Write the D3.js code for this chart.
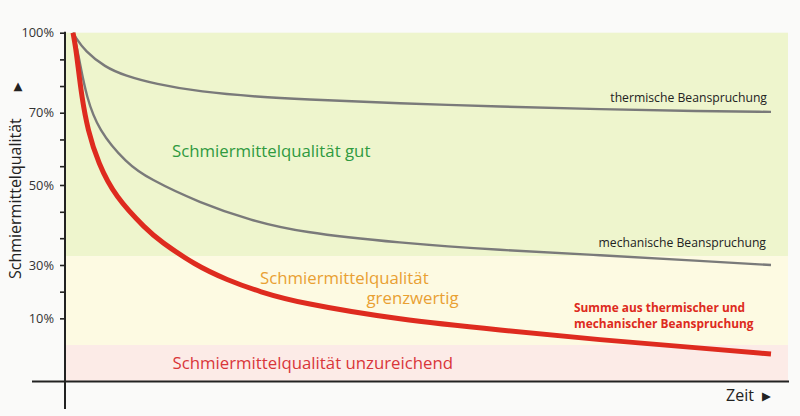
<!DOCTYPE html>
<html>
<head>
<meta charset="utf-8">
<script src="https://cdn.jsdelivr.net/npm/d3@7"></script>
<style>
  html, body { margin: 0; padding: 0; background: #fafaf9; }
  svg { display: block; font-family: "Open Sans", sans-serif; }
</style>
</head>
<body>
<div id="chart"></div>
<script>
// time runs 0..100 (no unit), quality in percent
const timeThermal = [0, 0.29, 1.72, 4.58, 7.45, 11.75, 18.2, 26.8, 32.5, 46.8, 61.2, 75.5, 89.8, 100];
const thermal     = [100, 98.5, 93.1, 87.1, 83.9, 80.8, 77.8, 75.9, 75.1, 73.5, 72.3, 71.3, 70.6, 70.3];

const timeMechanical = [0, 0.53, 1, 1.93, 3.62, 7.69, 10.79, 18.2, 25.4, 32.5, 46.8, 61.2, 75.5, 89.8, 100];
const mechanical     = [100, 94.8, 88.5, 76, 65.2, 56, 51.8, 45.5, 41.2, 38.2, 35.5, 33.7, 32.5, 31, 30];

const timeSum = [0, 0.36, 0.67, 1.25, 2.11, 3.62, 6.02, 10.56, 12.46, 17.48, 22.06, 26.79, 32.52, 46.85, 61.2, 75.5, 89.8, 100];
const sum     = [100, 94.8, 88.5, 76, 65.2, 56, 47.1, 38.8, 36, 30, 24.4, 19.9, 15.7, 9.4, 5.6, 1.9, -1.1, -3.4];

const tickValues = [100, 90, 80, 70, 62.6, 55.2, 50, 43.3, 36.7, 30, 20, 10];
const tickLabels = [100, 70, 50, 30, 10];

// quality zones (upper, lower) in percent
const zones = [
  { name: "gut", upper: 100, lower: 32.2, fill: "#eef5cd" },
  { name: "grenzwertig", upper: 32.2, lower: 0, fill: "#fdfae2" },
  { name: "unzureichend", upper: 0, lower: null, fill: "#fcebe7" }
];

const width = 800, height = 416;
const axisX = 65, axisY = 381.5, plotTop = 32.7, plotRight = 788;
const step = 26.67;

const svg = d3.select("#chart").append("svg")
  .attr("width", width)
  .attr("height", height);

const x = d3.scaleLinear().domain([0, 100]).range([73, 771]);

// the printed scale is not linear, so map the labelled values piecewise
const y = d3.scaleLinear()
  .domain([100, 70, 50, 30, 10])
  .range([0, 3, 5.71, 8.71, 10.71].map(u => plotTop + u * step));

// zones
svg.append("g")
  .selectAll("rect")
  .data(zones)
  .enter()
  .append("rect")
  .attr("x", axisX)
  .attr("width", plotRight - axisX)
  .attr("y", d => y(d.upper))
  .attr("height", d => (d.lower === null ? axisY : y(d.lower)) - y(d.upper))
  .attr("fill", d => d.fill);

// curves (basis smooths the hand-read points)
const makeLine = (times) => d3.line()
  .x((d, i) => x(times[i]))
  .y(d => y(d))
  .curve(d3.curveBasis);

svg.append("path")
  .datum(thermal)
  .attr("d", makeLine(timeThermal))
  .attr("fill", "none")
  .attr("stroke", "#7a7a7a")
  .attr("stroke-width", 2.4);

svg.append("path")
  .datum(mechanical)
  .attr("d", makeLine(timeMechanical))
  .attr("fill", "none")
  .attr("stroke", "#7a7a7a")
  .attr("stroke-width", 2.4);

svg.append("path")
  .datum(sum)
  .attr("d", makeLine(timeSum))
  .attr("fill", "none")
  .attr("stroke", "#de2b1f")
  .attr("stroke-width", 5);

// y axis ticks
const yAxis = d3.axisLeft(y)
  .tickValues(tickValues)
  .tickSize(5)
  .tickPadding(6)
  .tickFormat(d => tickLabels.includes(d) ? d + "%" : "");

const gy = svg.append("g")
  .attr("transform", `translate(${axisX},0)`)
  .call(yAxis);
gy.select(".domain").remove();
gy.selectAll("line").attr("stroke", "#222").attr("stroke-width", 1.6);
gy.selectAll("text")
  .attr("fill", "#333")
  .style("font-family", "Open Sans, sans-serif")
  .style("font-size", "12.8px");

// axis lines
svg.append("line")
  .attr("x1", axisX).attr("x2", axisX)
  .attr("y1", plotTop - 1).attr("y2", 409)
  .attr("stroke", "#222").attr("stroke-width", 2);
svg.append("line")
  .attr("x1", 32).attr("x2", 789)
  .attr("y1", axisY).attr("y2", axisY)
  .attr("stroke", "#222").attr("stroke-width", 2);

// axis titles
const yTitle = svg.append("text")
  .attr("transform", "translate(21,279) rotate(-90)")
  .attr("fill", "#222")
  .style("font-size", "16px")
  .text("Schmiermittelqualität");
yTitle.append("tspan")
  .attr("dx", 27)
  .style("font-family", "DejaVu Sans")
  .style("font-size", "11.5px")
  .text("▶");

const xTitle = svg.append("text")
  .attr("x", 726)
  .attr("y", 401)
  .attr("fill", "#222")
  .style("font-size", "16px")
  .text("Zeit");
xTitle.append("tspan")
  .attr("dx", 8)
  .attr("dy", -1)
  .style("font-family", "DejaVu Sans")
  .style("font-size", "11.5px")
  .text("▶");

// zone labels
const labels = [
  { text: "Schmiermittelqualität gut", x: 172, y: 157, color: "#2f9a3f", size: 16.8, weight: 400 },
  { text: "Schmiermittelqualität", x: 260, y: 283.5, color: "#e9a032", size: 16.8, weight: 400 },
  { text: "grenzwertig", x: 366.5, y: 304, color: "#e9a032", size: 16.8, weight: 400 },
  { text: "Schmiermittelqualität unzureichend", x: 172.5, y: 369, color: "#d9363a", size: 16.8, weight: 400 },
  { text: "thermische Beanspruchung", x: 767, y: 101.5, color: "#222", size: 12.2, weight: 400, anchor: "end" },
  { text: "mechanische Beanspruchung", x: 766, y: 246.5, color: "#222", size: 12.2, weight: 400, anchor: "end" },
  { text: "Summe aus thermischer und", x: 574, y: 311.5, color: "#dd2a20", size: 11.9, weight: 700 },
  { text: "mechanischer Beanspruchung", x: 574, y: 328.3, color: "#dd2a20", size: 11.9, weight: 700 }
];

svg.append("g")
  .selectAll("text")
  .data(labels)
  .enter()
  .append("text")
  .attr("x", d => d.x)
  .attr("y", d => d.y)
  .attr("fill", d => d.color)
  .attr("text-anchor", d => d.anchor || "start")
  .style("font-size", d => d.size + "px")
  .style("font-weight", d => d.weight)
  .text(d => d.text);
</script>
</body>
</html>
